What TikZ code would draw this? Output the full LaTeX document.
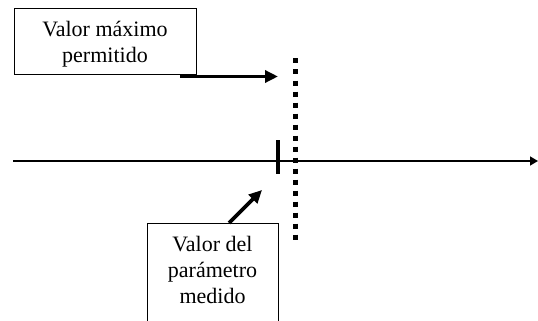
\documentclass[tikz,border=0pt]{standalone}
\usepackage{fontspec}
\setmainfont{Liberation Serif}
\usetikzlibrary{arrows.meta}
\begin{document}
\begin{tikzpicture}[x=1pt,y=-1pt,
  lbl/.style={align=center,font=\fontsize{22}{26}\selectfont,inner sep=0pt},
  boxframe/.style={draw,line width=1pt,inner sep=0pt},
  callout/.style={line width=3.8pt,-{Triangle[length=13pt,width=12pt]}},
]
\useasboundingbox (0,0) rectangle (538,321);
\clip (0,0) rectangle (538,321);
% top box
\node[boxframe,minimum width=182pt,minimum height=66pt] (maxbox) at (105,42) {};
\node[lbl,anchor=base] (maxtxt) at (105,63) {Valor máximo\\permitido};
% lower box (cut off at the bottom)
\node[boxframe,minimum width=131pt,minimum height=117pt] (medbox) at (212.5,281.5) {};
\node[lbl,anchor=base] (medtxt) at (212.5,303) {Valor del\\parámetro\\medido};
% axis
\coordinate (axstart) at (13,161);
\coordinate (axend) at (538,161);
\draw[line width=1.5pt,-{Triangle[length=8pt,width=9pt]}] (axstart) -- (axend);
% tick of measured value
\coordinate (ticktop) at (278,140);
\coordinate (tickbot) at (278,174);
\draw[line width=4pt] (ticktop) -- (tickbot);
% dotted limit line
\coordinate (limtop) at (295,58.5);
\coordinate (limbot) at (295,240);
\draw[line width=5pt,dash pattern=on 5pt off 6pt] (limtop) -- (limbot);
% callout arrows
\coordinate (maxstart) at (180,76.5);
\coordinate (maxtip) at (278,76.5);
\draw[callout] (maxstart) -- (maxtip);
\coordinate (medstart) at (229,223);
\coordinate (medtip) at (262,190);
\draw[callout] (medstart) -- (medtip);
\end{tikzpicture}
\end{document}
